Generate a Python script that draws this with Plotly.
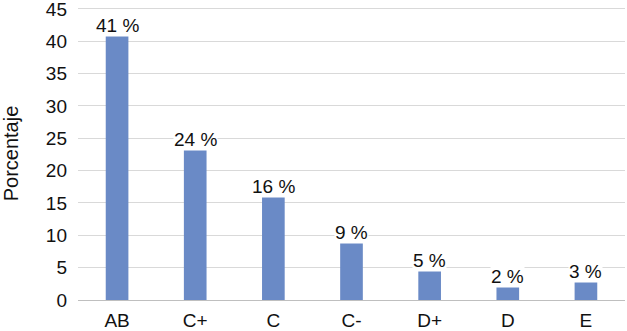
import plotly.graph_objects as go

categories = ["AB", "C+", "C", "C-", "D+", "D", "E"]
values = [41.0, 23.4, 16.1, 9.0, 4.6, 2.1, 2.9]
labels = ["41 %", "24 %", "16 %", "9 %", "5 %", "2 %", "3 %"]
y_ticks = [0, 5, 10, 15, 20, 25, 30, 35, 40, 45]

FONT = "Liberation Sans, Arial, sans-serif"

fig = go.Figure()
fig.add_trace(go.Bar(
    x=categories, y=values,
    marker=dict(color="#6a8ac6", line=dict(width=0)),
    width=0.29,
    hoverinfo="skip",
))

for c, v, t in zip(categories, values, labels):
    fig.add_annotation(
        x=c, y=v, text=t, showarrow=False, yanchor="bottom", yshift=-2,
        bgcolor="white", borderpad=0,
        font=dict(family=FONT, size=19, color="#111111"),
    )

fig.update_layout(
    width=627, height=331,
    margin=dict(l=78, r=2, t=7, b=31),
    paper_bgcolor="white", plot_bgcolor="white",
    showlegend=False,
    font=dict(family=FONT, size=19, color="#111111"),
    xaxis=dict(
        showgrid=False, showline=True, linecolor="#bfbfbf", linewidth=1,
        ticks="", tickfont=dict(size=19), ticklabelstandoff=3, automargin=False,
    ),
    yaxis=dict(
        range=[0, 45.3], tickvals=y_ticks, showgrid=True, gridcolor="#d9d9d9",
        gridwidth=1, zeroline=False, showline=False, ticks="",
        tickfont=dict(size=19), ticklabelstandoff=10, automargin=False,
        ticklabeloverflow="allow",
        title=dict(text="Porcentaje", font=dict(size=20), standoff=21),
    ),
)

fig.write_html(
    "out.html",
    config={"displayModeBar": False},
    post_script="document.body.style.margin='0';document.body.style.overflow='hidden';",
)
